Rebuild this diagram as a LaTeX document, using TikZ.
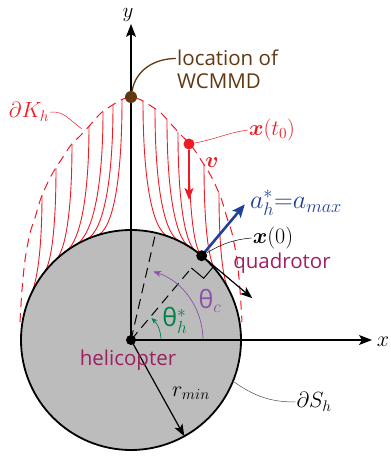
\RequirePackage{fix-cm}
\documentclass[tikz,border=0pt]{standalone}
\usepackage{amsmath,bm}
\usepackage{fontspec}
\setsansfont{Open Sans}
\newfontfamily\thetafont{Open Sans}
\usetikzlibrary{arrows.meta}
\definecolor{myred}{RGB}{237,28,36}
\definecolor{mybrown}{RGB}{96,57,19}
\definecolor{myblue}{RGB}{33,64,154}
\definecolor{mypurple}{RGB}{140,80,170}
\definecolor{mygreen}{RGB}{0,128,72}
\definecolor{mymag}{RGB}{158,31,99}
\definecolor{mygray}{RGB}{188,188,188}
\tikzset{
  traj/.style={myred, line width=0.9pt},
  bound/.style={myred, line width=1pt, dash pattern=on 9pt off 6pt},
  axisline/.style={line width=1.2pt, -{Stealth[length=13pt,width=10pt,inset=3pt]}},
  blkarrow/.style={line width=1.2pt, -{Stealth[length=12pt,width=9pt,inset=3pt]}},
  dashblk/.style={line width=1pt, dash pattern=on 10pt off 6pt},
  dot/.style={circle, inner sep=0pt, minimum size=#1},
  sanslab/.style={font=\sffamily\fontsize{20.5}{23}\selectfont, inner sep=1pt},
  mathlab/.style={font=\fontsize{22}{24}\selectfont, inner sep=1pt},
  thetalab/.style={font=\thetafont\fontsize{25}{25}\selectfont, inner sep=1pt},
  leader/.style={line width=0.5pt},
}
% trajectory: start (#1,#2), tangent contact with circle at angle #3, side sign #4 (1 right, -1 left)
\newcommand{\mytraj}[4]{%
  \pgfmathsetmacro\tx{110*cos(#3)}%
  \pgfmathsetmacro\ty{110*sin(#3)}%
  \pgfmathsetmacro\ddx{#4*sin(#3)}%
  \pgfmathsetmacro\ddy{-#4*cos(#3)}%
  \pgfmathsetmacro\ss{(#1-\tx)/\ddx}%
  \pgfmathsetmacro\qy{\ty+\ss*\ddy}%
  \pgfmathsetmacro\cay{#2+0.6*(\qy-#2)}%
  \pgfmathsetmacro\cbx{\tx+2/3*(#1-\tx)}%
  \pgfmathsetmacro\cby{\ty+2/3*(\qy-\ty)}%
  \draw[traj] (#1,#2) .. controls (#1,\cay) and (\cbx,\cby) .. (\tx,\ty);%
}
\begin{document}
\begin{tikzpicture}[x=1pt,y=1pt]
\useasboundingbox (-131,-116) rectangle (260,340);
% trajectories
\foreach \sx/\sy/\ang in {12/239/70, 24/231/64, 36/220/58, 47/208/54, 58/196/50, 73/176/40, 88/147/28} {
  \mytraj{\sx}{\sy}{\ang}{1}
}
\foreach \sx/\sy/\ang in {-9/240/108, -18/235/114, -28/228/120, -42/214/126, -59/196/133, -75/172/142, -89/145/155} {
  \mytraj{\sx}{\sy}{\ang}{-1}
}
% boundary dK_h
\draw[bound] plot[smooth] coordinates {(-111,18) (-109,50) (-106,80) (-101,107) (-96,122) (-90,142) (-80,164) (-70,180) (-60,195) (-50,205) (-40,216) (-30,227) (-20,234) (-10,240) (0,243) (10,240) (20,234) (30,227) (40,216) (50,205) (60,195) (70,180) (80,164) (90,142) (96,122) (101,107) (106,80) (109,50) (111,18)};
% safety disc
\draw[line width=1.8pt, fill=mygray] (0,0) circle[radius=110];
% named points
\node[dot=10pt, fill=black] (ctr) at (0,0) {};
\coordinate (pq) at (70.71,84.26);
\coordinate (ra1) at (60.43,72.0);
\coordinate (ra2) at (72.69,61.72);
\coordinate (ra3) at (82.97,73.98);
\coordinate (tipT) at (121.3,41.8);
\coordinate (tipA) at (113.8,135.6);
\coordinate (rim77) at (24.7,107.2);
\coordinate (rimR) at (53.3,-96.2);
\coordinate (rimS) at (102.0,-41.2);
\coordinate (xend) at (241,0);
\coordinate (yend) at (0,316);
% dashed radial lines
\draw[dashblk] (ctr.center) -- (ra1);
\draw[dashblk] (ctr.center) -- (rim77);
% right angle mark
\draw[line width=1pt] (ra1) -- (ra2) -- (ra3);
% angle arcs
\draw[mygreen, line width=0.7pt, -{Stealth[length=6pt,width=5pt]}] (30,0) arc[start angle=0, end angle=47, radius=30];
\draw[mypurple, line width=0.7pt, -{Stealth[length=8pt,width=6pt]}] (72,0) arc[start angle=0, end angle=72, radius=72];
% axes
\draw[axisline] (ctr.center) -- (xend);
\draw[axisline] (ctr.center) -- (yend);
\node[mathlab] (xl) at (252,-2) {$x$};
\node[mathlab, anchor=north, font=\fontsize{21}{22}\selectfont] (yl) at (-3,333) {$y$};
% tangent arrow and r_min arrow
\draw[blkarrow] (pq) -- (tipT);
\draw[blkarrow] (ctr.center) -- (rimR);
% acceleration arrow
\draw[myblue, line width=2.6pt, -{Stealth[length=13pt,width=11pt,inset=3pt]}] (pq) -- (tipA);
% dots
\node[dot=11pt, fill=black] (quadp) at (pq) {};
\node[dot=12pt, fill=mybrown] (wc) at (0,243) {};
\node[dot=11pt, fill=myred] (xt0dot) at (58,196) {};
\coordinate (vend) at (58,140);
\draw[myred, line width=1.8pt, -{Stealth[length=12pt,width=9pt,inset=3pt]}] (xt0dot) -- (vend);
% labels
\node[sanslab, text=mybrown, anchor=west, align=left] (loc) at (45,270.5) {location of\\WCMMD};
\draw[mybrown, line width=1.3pt] (wc) to[out=80,in=180] ([yshift=11pt]loc.west);
\node[mathlab, text=myred] (dK) at (-102,228) {$\partial K_h$};
\draw[myred, leader] (dK.east) to[out=5,in=145] (-49,211);
\node[mathlab, text=myred] (xt0) at (141,210) {$\bm{x}(t_0)$};
\draw[myred, leader] (xt0dot) to[out=10,in=188] (xt0.west);
\node[mathlab, text=myred] (vl) at (81,177) {$\bm{v}$};
\node[mathlab, text=myblue, font=\fontsize{26}{28}\selectfont] (al) at (165,137) {$a_h^{*}{=}a_{max}$};
\node[mathlab] (x0) at (142,102) {$\bm{x}(0)$};
\draw[leader] (quadp) to[out=30,in=185] (x0.west);
\node[sanslab, text=mymag] (quad) at (151,77) {quadrotor};
\node[sanslab, text=mymag] (heli) at (-3,-20) {helicopter};
\node[thetalab, text=mypurple] (thc) at (79,39) {θ$_{c}$};
\node[thetalab, text=mygreen] (thh) at (44,20) {θ$^{*}_{h}$};
\node[mathlab] (rl) at (60,-53) {$r_{min}$};
\node[mathlab] (dS) at (183,-62) {$\partial S_h$};
\draw[leader, black!70] (rimS) to[out=-35,in=180] (dS.west);
\end{tikzpicture}
\end{document}
